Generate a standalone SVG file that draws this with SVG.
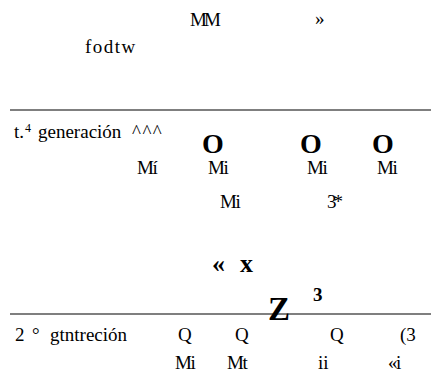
<svg xmlns="http://www.w3.org/2000/svg" width="431" height="377" viewBox="0 0 431 377">
<style>
text{font-family:'Liberation Serif','Times New Roman','DejaVu Serif',serif;fill:#000}
.n{font-size:19px}
.t{font-size:19px;letter-spacing:-1.5px}
.b{font-weight:bold}
.o{font-size:28px}
.g{font-size:26px}
.z{font-size:33px}
line{stroke:#000;stroke-width:1.2}
</style>
<rect width="431" height="377" fill="#fff"/>
<text class="n" x="190" y="26" letter-spacing="-3">MM</text>
<text class="n" x="315" y="25">»</text>
<text class="n" x="85" y="53" letter-spacing="1.5">fodtw</text>
<line x1="10" y1="110" x2="431" y2="110"/>
<text class="n" x="14" y="138">t.</text>
<text x="25" y="132" style="font-size:12px">4</text>
<text class="n" x="38" y="138">generación</text>
<text class="n" x="132" y="138" letter-spacing="1.5">^^^</text>
<text class="b o" x="202" y="153">O</text>
<text class="b o" x="300" y="153">O</text>
<text class="b o" x="372" y="153">O</text>
<text class="t" x="137" y="174">Mí</text>
<text class="t" x="208" y="174">Mi</text>
<text class="t" x="307" y="174">Mi</text>
<text class="t" x="377" y="174">Mi</text>
<text class="t" x="220" y="208">Mi</text>
<text class="n" x="327" y="208" letter-spacing="-3">3*</text>
<text class="b g" x="212" y="272">«</text>
<text class="b g" x="240" y="272">x</text>
<text class="b z" x="268" y="320">Z</text>
<text class="b n" x="313" y="301">3</text>
<line x1="10" y1="314" x2="431" y2="314"/>
<text class="n" x="15" y="341">2</text>
<text class="n" x="32" y="341">°</text>
<text class="n" x="50" y="341">gtntreción</text>
<text class="n" x="178" y="341">Q</text>
<text class="n" x="235" y="341">Q</text>
<text class="n" x="330" y="341">Q</text>
<text class="n" x="400" y="341">(3</text>
<text class="t" x="175" y="369">Mi</text>
<text class="t" x="227" y="369">Mt</text>
<text class="n" x="318" y="369">ii</text>
<text class="t" x="388" y="369">«i</text>
</svg>
